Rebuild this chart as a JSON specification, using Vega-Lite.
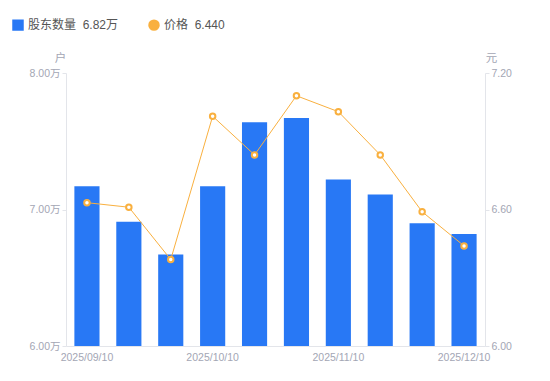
{
  "$schema": "https://vega.github.io/schema/vega-lite/v6.json",
  "width": 419,
  "height": 273,
  "autosize": {"type": "none"},
  "padding": {"left": 66, "top": 73, "right": 65, "bottom": 35},
  "background": "white",
  "config": {
    "font": "Liberation Sans, Noto Sans CJK SC, sans-serif",
    "view": {"stroke": null},
    "axis": {"labelColor": "#a3a6b4", "labelFontSize": 10.5, "domainColor": "#e3e5ea", "tickColor": "#e3e5ea", "grid": false, "titleColor": "#a3a6b4", "titleFontWeight": "normal", "titleFontSize": 11.5}
  },
  "data": {
    "values": [
      {"date": "2025/09/10", "holders": 7.17, "price": 6.63},
      {"date": "2025/09/19", "holders": 6.91, "price": 6.61},
      {"date": "2025/09/30", "holders": 6.67, "price": 6.38},
      {"date": "2025/10/10", "holders": 7.17, "price": 7.01},
      {"date": "2025/10/20", "holders": 7.64, "price": 6.84},
      {"date": "2025/10/31", "holders": 7.67, "price": 7.10},
      {"date": "2025/11/10", "holders": 7.22, "price": 7.03},
      {"date": "2025/11/20", "holders": 7.11, "price": 6.84},
      {"date": "2025/11/28", "holders": 6.90, "price": 6.59},
      {"date": "2025/12/10", "holders": 6.82, "price": 6.44}
    ]
  },
  "encoding": {
    "x": {
      "field": "date", "type": "ordinal", "sort": null,
      "scale": {"paddingInner": 0.4, "paddingOuter": 0.2},
      "axis": {"title": null, "labelAngle": 0, "ticks": false, "labelPadding": 6,
        "labelExpr": "indexof(['2025/09/10','2025/10/10','2025/11/10','2025/12/10'], datum.value) >= 0 ? datum.value : ''"}
    }
  },
  "layer": [
    {
      "mark": {"type": "bar"},
      "encoding": {
        "y": {
          "field": "holders", "type": "quantitative",
          "scale": {"domain": [6, 8], "zero": false, "nice": false},
          "axis": {"values": [6, 7, 8], "labelExpr": "format(datum.value, '.2f') + '万'", "title": "户", "titleAngle": 0, "titleAnchor": "end", "titleAlign": "center", "titleX": -6, "titleY": -10, "tickSize": 4, "labelPadding": 2}
        },
        "y2": {"datum": 6},
        "color": {
          "datum": "股东数量", "type": "nominal",
          "scale": {"domain": ["股东数量", "价格"], "range": ["#2878f5", "#f9b03f"]},
          "legend": {
            "orient": "none", "legendX": -54, "legendY": -54, "direction": "horizontal", "title": null,
            "labelFontSize": 12, "labelColor": "#555", "columnPadding": 26, "symbolSize": 90, "symbolStrokeWidth": 2,
            "labelExpr": "datum.label == '股东数量' ? '股东数量\u00a0\u00a06.82万' : '价格\u00a0\u00a06.440'"
          }
        }
      }
    },
    {
      "mark": {"type": "line", "strokeWidth": 1},
      "encoding": {
        "y": {
          "field": "price", "type": "quantitative",
          "scale": {"domain": [6, 7.2], "zero": false, "nice": false},
          "axis": {"orient": "right", "values": [6, 6.6, 7.2], "format": ".2f", "title": "元", "titleAngle": 0, "titleAnchor": "end", "titleAlign": "center", "titleX": 6, "titleY": -10, "tickSize": 4, "labelPadding": 2}
        },
        "color": {"datum": "价格", "type": "nominal"}
      }
    },
    {
      "mark": {"type": "point", "filled": false, "fill": "white", "strokeWidth": 2, "size": 30, "opacity": 1},
      "encoding": {
        "y": {"field": "price", "type": "quantitative", "scale": {"domain": [6, 7.2], "zero": false, "nice": false}, "axis": null},
        "color": {"datum": "价格", "type": "nominal"},
        "shape": {
          "datum": "价格", "type": "nominal",
          "scale": {"domain": ["股东数量", "价格"], "range": ["square", "circle"]}
        }
      }
    }
  ],
  "resolve": {"scale": {"y": "independent"}}
}
